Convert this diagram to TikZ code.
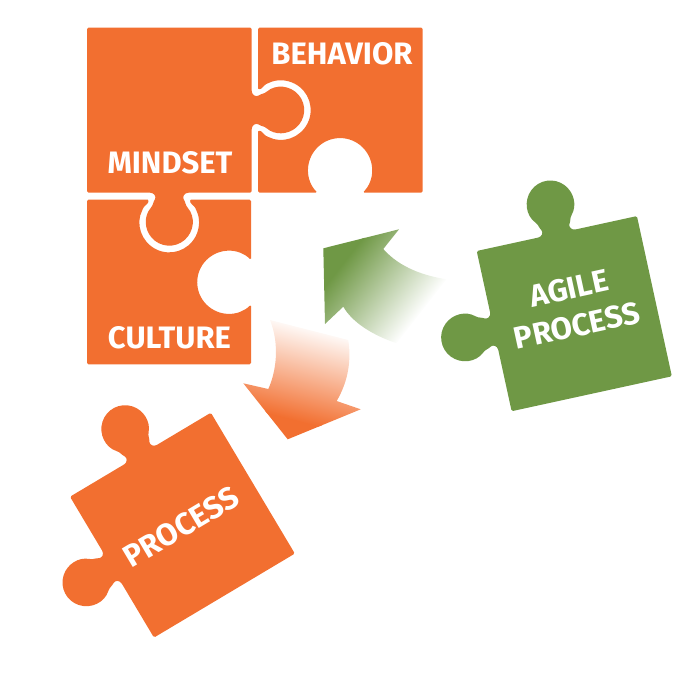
\documentclass[tikz,border=0pt]{standalone}
\usepackage{fontspec}
\setmainfont{Fira Sans}
\usepackage{tikz}
\usetikzlibrary{positioning}

\definecolor{pieceorange}{HTML}{F26F30}
\definecolor{piecegreen}{HTML}{6F9845}

\tikzset{
  piece/.style={fill=#1, rounded corners=1.5pt},
  piecelabel/.style={text=white, align=center, inner sep=0pt,
    font=\fontsize{31}{38}\selectfont\bfseries}
}

% loose piece: side 164, knobs on its top and left side
\newcommand{\loosepiece}[3]{
  \fill[piece=#3, shift={#1}, rotate=#2] (0,0) -- (61.3,0)
    .. controls (67,0) and (69,-4) .. (67,-7.7)
    .. controls (66,-10) and (65.5,-12) .. (64.3,-14.3)
    arc[start angle=138.4, end angle=401.6, radius=23.7]
    .. controls (98.5,-12) and (98,-10) .. (97,-7.7)
    .. controls (95,-4) and (97,0) .. (102.7,0)
    -- (164,0) -- (164,164) -- (0,164) -- (0,102.7)
    .. controls (0,97) and (-4,95) .. (-7.7,97)
    .. controls (-10,98) and (-12,98.5) .. (-14.3,99.7)
    arc[start angle=48.4, end angle=311.6, radius=23.7]
    .. controls (-12,65.5) and (-10,66) .. (-7.7,67)
    .. controls (-4,69) and (0,67) .. (0,61.3) -- cycle;
}

\begin{document}
\begin{tikzpicture}[x=1pt, y=-1pt]

  \useasboundingbox (0,0) rectangle (700,674);

  % mindset
  \fill[piece=pieceorange] (87,27.7) -- (251.7,27.7) -- (251.7,89.3)
    .. controls (251.7,95) and (255.7,97) .. (259.4,95)
    .. controls (261.7,94) and (263.7,93.5) .. (266,92.3)
    arc[start angle=-130.3, end angle=130.3, radius=23.2]
    .. controls (263.7,126.5) and (261.7,126) .. (259.4,125)
    .. controls (255.7,123) and (251.7,125) .. (251.7,130.7)
    -- (251.7,192.7) -- (190,192.7)
    .. controls (184.3,192.7) and (182.3,196.7) .. (184.3,200.4)
    .. controls (185.3,202.7) and (185.8,204.7) .. (187,207)
    arc[start angle=-40.8, end angle=220.8, radius=23.4]
    .. controls (152.8,204.7) and (153.3,202.7) .. (154.3,200.4)
    .. controls (156.3,196.7) and (154.3,192.7) .. (148.6,192.7)
    -- (87,192.7) -- cycle;

  % behavior
  \fill[piece=pieceorange] (258,27.7) -- (422.7,27.7) -- (422.7,192.7) -- (362.7,192.7)
    arc[start angle=45, end angle=-225, radius=32]
    -- (258,192.7) -- (258,133)
    .. controls (258,131) and (260,130.5) .. (262,132)
    .. controls (264,134) and (265,135.5) .. (267.5,136.5)
    arc[start angle=117, end angle=-117, radius=29.7]
    .. controls (265,84.5) and (264,86) .. (262,88)
    .. controls (260,89.5) and (258,89) .. (258,87) -- cycle;

  % culture
  \fill[piece=pieceorange] (87,199.7) -- (146.3,199.7)
    .. controls (148.3,199.7) and (148.8,201.7) .. (147.3,203.7)
    .. controls (145.3,205.7) and (143.8,206.7) .. (142.8,209.2)
    arc[start angle=207, end angle=-27, radius=29.7]
    .. controls (194.8,206.7) and (193.3,205.7) .. (191.3,203.7)
    .. controls (189.8,201.7) and (190.3,199.7) .. (192.3,199.7)
    -- (251,199.7) -- (251,260)
    arc[start angle=-45, end angle=-315, radius=31.5]
    -- (251,364.3) -- (87,364.3) -- cycle;

  \loosepiece{(476.7,251)}{12.3}{piecegreen}
  \loosepiece{(70,496.7)}{30.8}{pieceorange}

  % curved arrows, fading towards their tails
  \begin{scope}
    \clip (323.3,248.3) -- (399,229.3) -- (383.3,249)
      .. controls (400,268) and (425,276) .. (446.7,279.3)
      -- (396.7,343.3)
      .. controls (372,335) and (352,322) .. (343.3,306.7)
      -- (325,324) -- cycle;
    \begin{scope}[transform canvas={shift={(340,266.7)}, rotate=-38}]
      \fill[piecegreen] (-100,-150) rectangle (2,150);
      \shade[left color=piecegreen, right color=white] (0,-150) rectangle (92,150);
    \end{scope}
  \end{scope}

  \begin{scope}
    \clip (243.3,383.3) -- (268.3,389)
      .. controls (276,372) and (280,345) .. (270,320)
      -- (348.3,340)
      .. controls (352,365) and (346,385) .. (336.7,401)
      -- (360.7,409.3) -- (287.7,439.3) -- cycle;
    \begin{scope}[transform canvas={shift={(286.7,418.3)}, rotate=75.7}]
      \fill[pieceorange] (-100,-150) rectangle (2,150);
      \shade[left color=pieceorange, right color=white] (0,-150) rectangle (96,150);
    \end{scope}
  \end{scope}

  \node[piecelabel] (behavior) at (342,54) {BEHAVIOR};
  \node[piecelabel] (mindset) at (170,163) {MINDSET};
  \node[piecelabel] (culture) at (169.5,338) {CULTURE};
  \node[piecelabel, rotate=12.3] (agile) at (573,307) {AGILE\\PROCESS};
  \node[piecelabel, rotate=30.8] (process) at (181,527) {PROCESS};

\end{tikzpicture}
\end{document}
